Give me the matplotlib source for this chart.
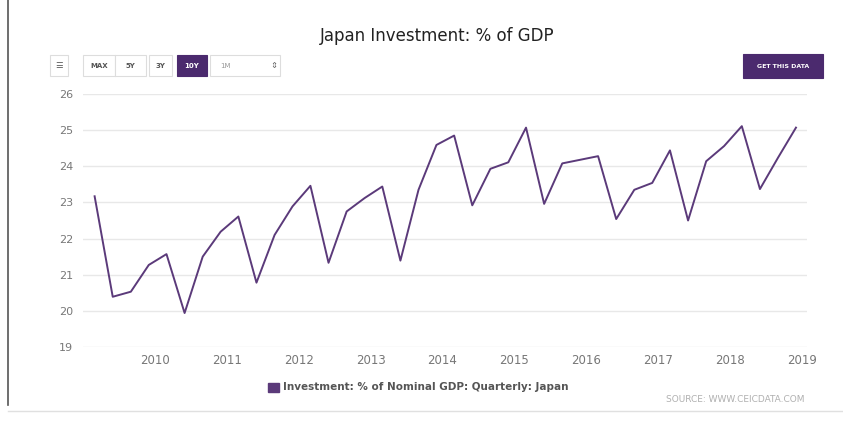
import numpy as np
import pandas as pd
import matplotlib
matplotlib.use("Agg")
import matplotlib.pyplot as plt
import matplotlib.dates as mdates
from matplotlib.patches import Rectangle

# quarterly data, 2009 Q1 .. 2018 Q4 (dated at quarter-end month)
quarters = pd.date_range("2009-03-01", periods=40, freq="3MS")
investment_pct = [
    23.17, 20.39, 20.53, 21.27, 21.57, 19.94, 21.50, 22.19, 22.61, 20.78,
    22.10, 22.89, 23.46, 21.33, 22.75, 23.12, 23.44, 21.39, 23.35, 24.59,
    24.85, 22.92, 23.93, 24.11, 25.07, 22.96, 24.08, 24.18, 24.28, 22.54,
    23.35, 23.54, 24.44, 22.50, 24.14, 24.56, 25.11, 23.37, 24.24, 25.07,
]
y_ticks = [19, 20, 21, 22, 23, 24, 25, 26]
year_ticks = list(range(2010, 2020))

range_buttons = ["MAX", "5Y", "3Y", "10Y"]
selected_button = "10Y"

purple = "#4b2a6e"
line_color = "#5b3a7a"

fig = plt.figure(figsize=(8.43, 4.38), dpi=100)
W, H = 843, 438


def fx(px):
    return px / W


def fy(py):
    return 1 - py / H


ax = fig.add_axes([fx(83), fy(347), fx(807) - fx(83), fy(94) - fy(347)])
ax.plot(quarters, investment_pct, color=line_color, lw=1.4)

ax.set_ylim(19, 26)
ax.set_yticks(y_ticks)
ax.set_xlim(pd.Timestamp("2009-01-01"), pd.Timestamp("2019-01-26"))
ax.set_xticks([pd.Timestamp(f"{y}-01-01") for y in year_ticks])
ax.xaxis.set_major_formatter(mdates.DateFormatter("%Y"))
ax.grid(axis="y", color="#e8e8e8", lw=1)
ax.set_axisbelow(True)
for s in ax.spines.values():
    s.set_visible(False)
ax.tick_params(axis="both", length=0, colors="#777777", labelsize=8)
ax.tick_params(axis="y", pad=7)
ax.tick_params(axis="x", pad=5, labelsize=8.5)

# title
fig.text(fx(437), fy(36), "Japan Investment: % of GDP", ha="center", va="center",
         fontsize=12, color="#222222")

# range selector row
fig.patches.append(Rectangle((fx(50), fy(76)), fx(18), fy(55) - fy(76), transform=fig.transFigure,
                             fc="white", ec="#dddddd", lw=0.8))
fig.text(fx(59), fy(66), "☰", ha="center", va="center", fontsize=6, color="#555555")
btn_x = [83, 115, 149, 177]
btn_w = [32, 31, 23, 30]
for label, x0, w in zip(range_buttons, btn_x, btn_w):
    sel = label == selected_button
    fig.patches.append(Rectangle((fx(x0), fy(76)), fx(w), fy(55) - fy(76), transform=fig.transFigure,
                                 fc=purple if sel else "white", ec=purple if sel else "#dddddd", lw=0.8))
    fig.text(fx(x0 + w / 2), fy(66), label, ha="center", va="center", fontsize=5,
             color="white" if sel else "#555555", weight="bold")
fig.patches.append(Rectangle((fx(210), fy(76)), fx(70), fy(55) - fy(76), transform=fig.transFigure,
                             fc="white", ec="#dddddd", lw=0.8))
fig.text(fx(220), fy(66), "1M", ha="left", va="center", fontsize=5, color="#999999")
fig.text(fx(274), fy(66), "⇕", ha="center", va="center", fontsize=6, color="#666666")

# get data button
fig.patches.append(Rectangle((fx(743), fy(78)), fx(80), fy(54) - fy(78), transform=fig.transFigure,
                             fc=purple, ec=purple, lw=0.8))
fig.text(fx(783), fy(66), "GET THIS DATA", ha="center", va="center", fontsize=4.5,
         color="white", weight="bold")

# legend
fig.patches.append(Rectangle((fx(268), fy(392)), fx(11), fy(383) - fy(392), transform=fig.transFigure,
                             fc=line_color, ec=line_color))
fig.text(fx(283), fy(387), "Investment: % of Nominal GDP: Quarterly: Japan", ha="left", va="center",
         fontsize=7.5, color="#555555", weight="bold")

# source
fig.text(fx(805), fy(400), "SOURCE: WWW.CEICDATA.COM", ha="right", va="center",
         fontsize=6.5, color="#b0b0b0")

# page borders
fig.add_artist(plt.Line2D([fx(8), fx(8)], [fy(0), fy(405)], color="#555555", lw=1.2))
fig.add_artist(plt.Line2D([fx(8), fx(843)], [fy(411), fy(411)], color="#e0e0e0", lw=1))

fig.savefig("out.png", dpi=100)
